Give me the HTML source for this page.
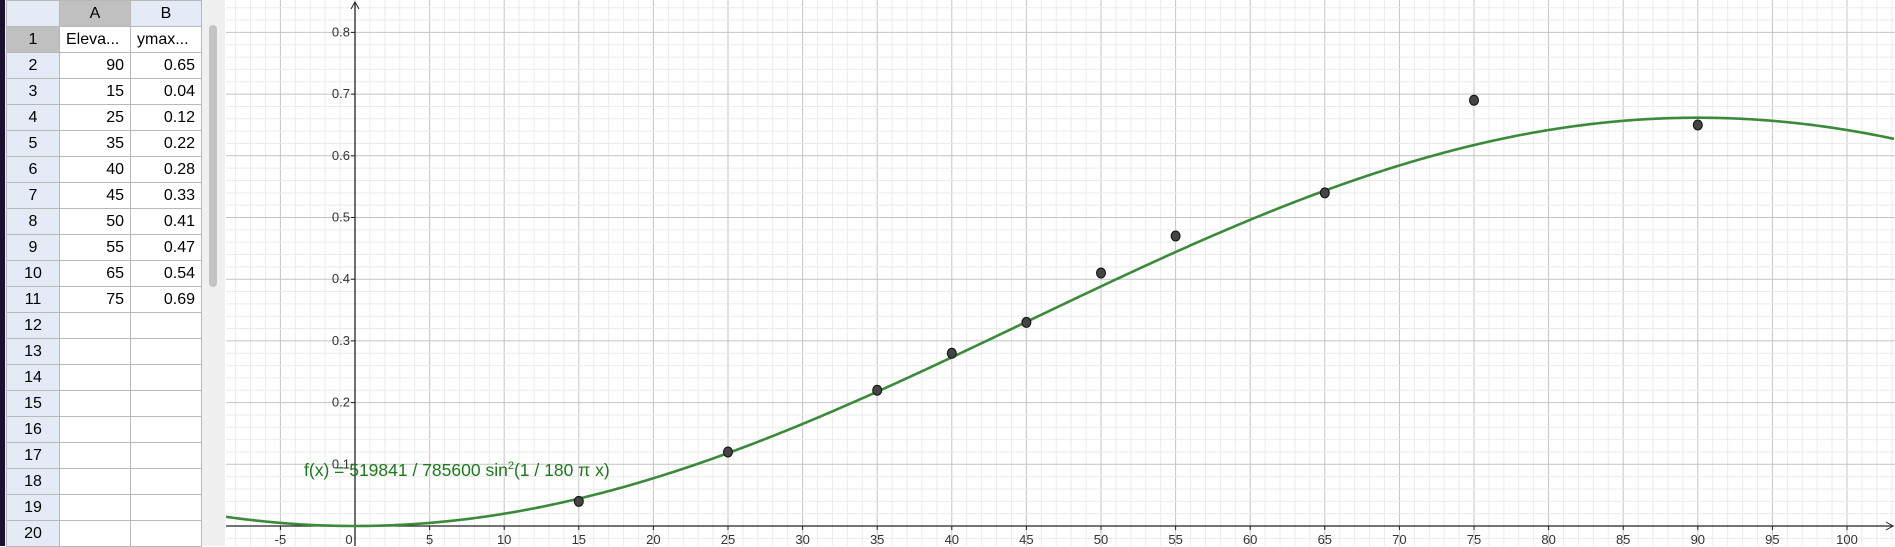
<!DOCTYPE html>
<html><head><meta charset="utf-8"><style>
body{margin:0;width:1895px;height:546px;overflow:hidden;background:#fff;font-family:"Liberation Sans",sans-serif;position:relative}
#sheet{position:absolute;left:0;top:0;width:225px;height:546px;background:#f0f0f0}
table{border-collapse:collapse;position:absolute;left:6px;top:0;table-layout:fixed}
td{height:25px;border:1px solid #b8b8b8;font-size:16px;padding:0 6px;white-space:nowrap;overflow:hidden;background:#fff}
td.rh{background:#e5ebf6;text-align:center;width:40px;padding:0}
td.ch{background:#e5ebf6;text-align:center}
td.sel{background:#c0c0c0}
td.n{text-align:right}
#strip{position:absolute;left:0;top:0;width:5px;height:546px;background:#1a1030}
#scroll{position:absolute;left:209px;top:25px;width:8px;height:262px;background:#c4c4c4;border-radius:4px}
svg{position:absolute;left:0;top:0}
</style></head><body>
<div id="sheet">
<div id="strip"></div>
<table>
<colgroup><col style="width:53px"><col style="width:71px"><col style="width:71px"></colgroup>
<tr><td class="rh" style="background:#e5ebf6"></td><td class="ch sel">A</td><td class="ch">B</td></tr>
<tr><td class="rh sel">1</td><td>Eleva...</td><td>ymax...</td></tr>
<tr><td class="rh">2</td><td class="n">90</td><td class="n">0.65</td></tr>
<tr><td class="rh">3</td><td class="n">15</td><td class="n">0.04</td></tr>
<tr><td class="rh">4</td><td class="n">25</td><td class="n">0.12</td></tr>
<tr><td class="rh">5</td><td class="n">35</td><td class="n">0.22</td></tr>
<tr><td class="rh">6</td><td class="n">40</td><td class="n">0.28</td></tr>
<tr><td class="rh">7</td><td class="n">45</td><td class="n">0.33</td></tr>
<tr><td class="rh">8</td><td class="n">50</td><td class="n">0.41</td></tr>
<tr><td class="rh">9</td><td class="n">55</td><td class="n">0.47</td></tr>
<tr><td class="rh">10</td><td class="n">65</td><td class="n">0.54</td></tr>
<tr><td class="rh">11</td><td class="n">75</td><td class="n">0.69</td></tr>
<tr><td class="rh">12</td><td></td><td></td></tr>
<tr><td class="rh">13</td><td></td><td></td></tr>
<tr><td class="rh">14</td><td></td><td></td></tr>
<tr><td class="rh">15</td><td></td><td></td></tr>
<tr><td class="rh">16</td><td></td><td></td></tr>
<tr><td class="rh">17</td><td></td><td></td></tr>
<tr><td class="rh">18</td><td></td><td></td></tr>
<tr><td class="rh">19</td><td></td><td></td></tr>
<tr><td class="rh">20</td><td></td><td></td></tr>
</table>
<div id="scroll"></div>
</div>
<svg id="g" width="1895" height="546"></svg>
<script>
const xs=[90,15,25,35,40,45,50,55,65,75];
const ys=[0.65,0.04,0.12,0.22,0.28,0.33,0.41,0.47,0.54,0.69];
const xTicks=[-5,0,5,10,15,20,25,30,35,40,45,50,55,60,65,70,75,80,85,90,95,100];
const yTicks=[0.1,0.2,0.3,0.4,0.5,0.6,0.7,0.8];
const amp=519841/785600;
const X0=355,PX=14.92,Y0=526,PY=617;
const sx=v=>X0+v*PX, sy=v=>Y0-v*PY;
const L=226,R=1895;
const svg=document.getElementById('g'),NS='http://www.w3.org/2000/svg';
function mk(t,a,p){const e=document.createElementNS(NS,t);for(const k in a)e.setAttribute(k,a[k]);(p||svg).appendChild(e);return e;}
const grid=mk('g',{});


for(let i=-8;i<=103;i++){const x=sx(i);if(x<L)continue;mk('line',{x1:x,x2:x,y1:0,y2:546,stroke:i%5?'#ebebeb':'#c4c4c4','stroke-width':1},grid);}
for(let j=-1;j<=43;j++){const y=sy(j*0.02);if(y<0||y>546)continue;mk('line',{x1:L,x2:R,y1:y,y2:y,stroke:j%5?'#ebebeb':'#c4c4c4','stroke-width':1},grid);}
const ax=mk('line',{x1:L,x2:R-2,y1:Y0,y2:Y0,stroke:'#222','stroke-width':1.3});


mk('path',{d:`M${R-9} ${Y0-4}L${R-2} ${Y0}L${R-9} ${Y0+4}`,fill:'none',stroke:'#222'});
const ay=mk('line',{x1:X0,x2:X0,y1:2,y2:546,stroke:'#222','stroke-width':1.3});


mk('path',{d:`M${X0-4} 9L${X0} 2L${X0+4} 9`,fill:'none',stroke:'#222'});
xTicks.forEach(v=>{const t=mk('text',{x:sx(v)+(v===0?-6:0),y:Y0+18,'text-anchor':'middle','font-size':13,fill:'#333','font-family':'Liberation Sans, sans-serif'});t.textContent=v;


mk('line',{x1:sx(v),x2:sx(v),y1:Y0,y2:Y0+4,stroke:'#222'});});
yTicks.forEach(v=>{const t=mk('text',{x:X0-5,y:sy(v)+4,'text-anchor':'end','font-size':13,fill:'#333','font-family':'Liberation Sans, sans-serif'});t.textContent=v.toFixed(1);


mk('line',{x1:X0-4,x2:X0,y1:sy(v),y2:sy(v),stroke:'#222'});});
let d='';for(let px=L;px<=R;px+=2){const v=(px-X0)/PX;const f=amp*Math.pow(Math.sin(Math.PI*v/180),2);d+=(px===L?'M':'L')+px+' '+sy(f).toFixed(2);}
const c=mk('path',{d:d,fill:'none',stroke:'#3a8a3a','stroke-width':2.6});


xs.forEach((v,i)=>{const p=mk('ellipse',{cx:sx(v),cy:sy(ys[i]),rx:4.5,ry:5,fill:'#444',stroke:'#111','stroke-width':1});

});
const lab=mk('text',{x:304,y:476,'font-size':17.5,fill:'#1a7a1a','font-family':'Liberation Sans, sans-serif'});
lab.innerHTML='f(x) = 519841 / 785600 sin<tspan font-size="11" dy="-7">2</tspan><tspan dy="7">(1 / 180 π x)</tspan>';


</script>
</body></html>
